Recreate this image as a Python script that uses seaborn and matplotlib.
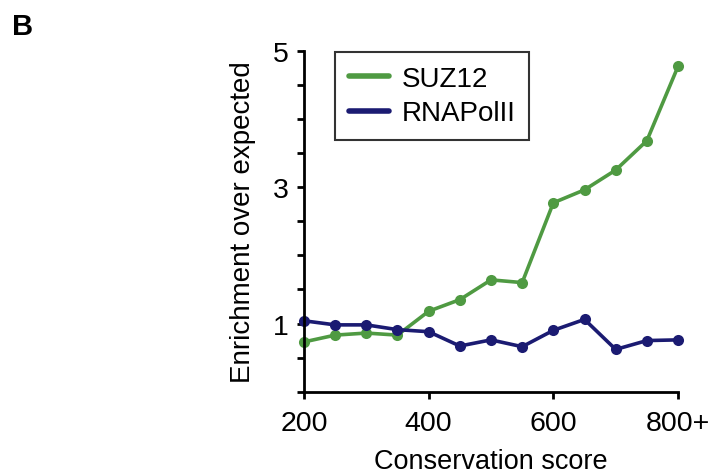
import matplotlib
matplotlib.use("Agg")
import matplotlib.pyplot as plt
import seaborn as sns
import pandas as pd

scores = [200, 250, 300, 350, 400, 450, 500, 550, 600, 650, 700, 750, 800]
suz12 = [0.73, 0.83, 0.86, 0.83, 1.18, 1.35, 1.64, 1.60, 2.77, 2.96, 3.25, 3.68, 4.77]
rnapol2 = [1.04, 0.98, 0.98, 0.91, 0.88, 0.67, 0.76, 0.66, 0.90, 1.06, 0.62, 0.75, 0.76]
series_names = ["SUZ12", "RNAPolII"]
x_ticks = [200, 400, 600, 800]
x_ticklabels = ["200", "400", "600", "800+"]
y_ticklabels = {1: "1", 3: "3", 5: "5"}

df = pd.DataFrame({
    "score": scores * 2,
    "value": suz12 + rnapol2,
    "series": [series_names[0]] * len(scores) + [series_names[1]] * len(scores),
})

sns.set_style("white")
plt.rcParams["font.family"] = ["Liberation Sans", "DejaVu Sans"]
plt.rcParams["text.color"] = "black"
plt.rcParams["axes.labelcolor"] = "black"
plt.rcParams["xtick.color"] = "black"
plt.rcParams["ytick.color"] = "black"

fig = plt.figure(figsize=(7.25, 4.77), dpi=100)
ax = fig.add_axes([0.4193, 0.1767, 0.5159, 0.7149])

palette = {"SUZ12": "#4f9a42", "RNAPolII": "#1b1b72"}
sns.lineplot(data=df, x="score", y="value", hue="series", palette=palette,
             marker="o", markersize=8, markeredgewidth=0, linewidth=2.6,
             ax=ax, legend=True)

ax.set_xlim(200, 800)
ax.set_ylim(0, 5)
ax.set_xticks(x_ticks)
ax.set_xticklabels(x_ticklabels)
yt = [i * 0.5 for i in range(11)]
ax.set_yticks(yt)
ax.set_yticklabels([y_ticklabels.get(v, "") if float(v).is_integer() else "" for v in yt])
for s in ["top", "right"]:
    ax.spines[s].set_visible(False)
for s in ["left", "bottom"]:
    ax.spines[s].set_linewidth(2.0)
    ax.spines[s].set_color("black")
    ax.spines[s].set_clip_on(False)
ax.tick_params(axis="both", which="both", direction="out", length=5, width=2.0,
               color="black", labelcolor="black", labelsize=20.5, pad=6,
               left=True, bottom=True)
ax.tick_params(axis="x", pad=8)
ax.set_xlabel("Conservation score", fontsize=19.5, labelpad=9)
ax.set_ylabel("Enrichment over expected", fontsize=20, labelpad=12)
for line in ax.lines:
    line.set_clip_on(False)

leg = ax.legend(loc="upper left", bbox_to_anchor=(335 / 725, 1 - 53 / 477),
                bbox_transform=fig.transFigure, fontsize=20, frameon=True,
                fancybox=False, handlelength=1.45, handletextpad=0.45,
                borderpad=0.5, labelspacing=0.3, borderaxespad=0)
leg.get_frame().set_edgecolor("black")
leg.get_frame().set_linewidth(1.5)
for t in leg.get_texts():
    t.set_color("black")
for h in leg.get_lines():
    h.set_linewidth(4)
    h.set_marker("")

fig.text(12 / 725, 1 - 35 / 477, "B", fontsize=21, fontweight="bold",
         color="black", ha="left", va="baseline")

fig.savefig("out.png", dpi=100, facecolor="white")
